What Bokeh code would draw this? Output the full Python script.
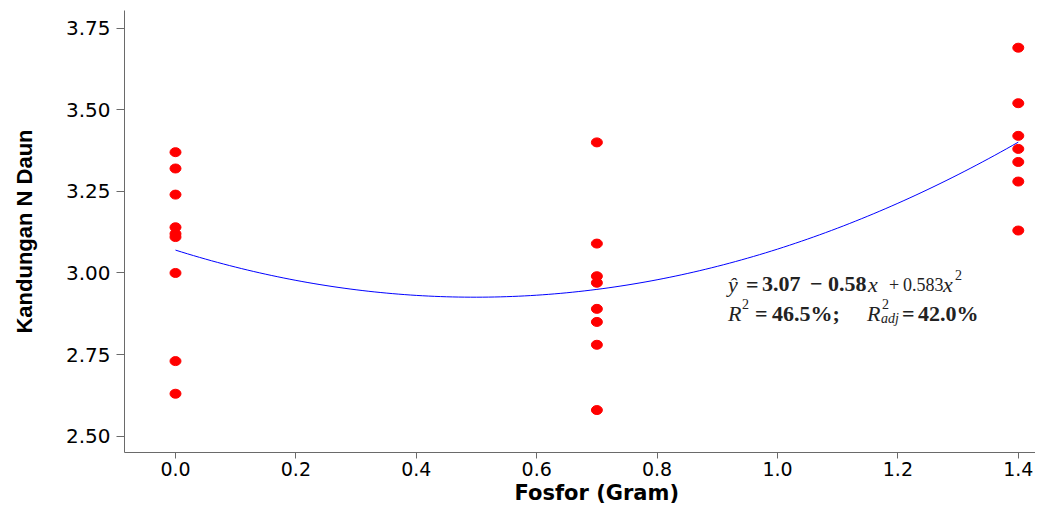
import numpy as np
from bokeh.plotting import figure
from bokeh.models import Range1d, FixedTicker, Label, PrintfTickFormatter, Title
from bokeh.embed import file_html
from bokeh.resources import INLINE

# ---- data ----
fosfor_levels = [0.0, 0.7, 1.4]
n_daun_0_0 = [3.37, 3.32, 3.24, 3.14, 3.12, 3.11, 3.00, 2.73, 2.63]
n_daun_0_7 = [3.40, 3.09, 2.99, 2.97, 2.89, 2.85, 2.78, 2.58]
n_daun_1_4 = [3.69, 3.52, 3.42, 3.38, 3.34, 3.28, 3.13]
fit_coef = [3.07, -0.58, 0.583]          # y = b0 + b1 x + b2 x^2 (as printed)
x_ticks = [0.0, 0.2, 0.4, 0.6, 0.8, 1.0, 1.2, 1.4]
y_ticks = [2.50, 2.75, 3.00, 3.25, 3.50, 3.75]
x_title = "Fosfor (Gram)"
y_title = "Kandungan N Daun"

xs_pts = ([fosfor_levels[0]] * len(n_daun_0_0) + [fosfor_levels[1]] * len(n_daun_0_7)
          + [fosfor_levels[2]] * len(n_daun_1_4))
ys_pts = n_daun_0_0 + n_daun_0_7 + n_daun_1_4

x_start, x_end = -0.0847, 1.4286
y_start, y_end = 2.45, 3.804

p = figure(width=1035, height=509, output_backend="svg", toolbar_location=None,
           x_range=Range1d(x_start, x_end), y_range=Range1d(y_start, y_end),
           min_border_left=124, min_border_right=0, min_border_top=10, min_border_bottom=57)
p.outline_line_color = None
p.xgrid.visible = False
p.ygrid.visible = False
p.background_fill_color = "white"
p.border_fill_color = "white"

# fitted curve from printed coefficients
xc = np.linspace(fosfor_levels[0], fosfor_levels[-1], 141)
yc = fit_coef[0] + fit_coef[1] * xc + fit_coef[2] * xc ** 2
p.line(xc, yc, line_color="#0000ff", line_width=1)

p.ellipse(x=xs_pts, y=ys_pts, width=11, height=9, width_units="screen", height_units="screen",
          fill_color="#ff0000", line_color="#ff0000")

# axes
axis_col = "#6a6a6a"
for ax in (p.xaxis[0], p.yaxis[0]):
    ax.axis_line_color = axis_col
    ax.major_tick_line_color = axis_col
    ax.minor_tick_line_color = None
    ax.major_tick_in = 0
    ax.major_label_text_color = "#000000"
    ax.major_label_text_font = "DejaVu Sans"

p.xaxis.ticker = FixedTicker(ticks=x_ticks)
p.xaxis.formatter = PrintfTickFormatter(format="%.1f")
p.xaxis.major_tick_out = 6
p.xaxis.major_label_standoff = 3
p.xaxis.major_label_text_font_size = "19px"

p.yaxis.ticker = FixedTicker(ticks=y_ticks)
p.yaxis.formatter = PrintfTickFormatter(format="%.2f")
p.yaxis.major_tick_out = 8
p.yaxis.major_label_standoff = 6
p.yaxis.major_label_text_font_size = "20px"
p.yaxis.axis_label = y_title
p.yaxis.axis_label_text_font = "Liberation Sans"
p.yaxis.axis_label_text_font_style = "bold"
p.yaxis.axis_label_text_font_size = "22px"
p.yaxis.axis_label_text_color = "#000000"
p.yaxis.axis_label_standoff = 26

# x axis title, shifted right as in the reference
p.add_layout(Title(text=x_title, align="left", offset=390, standoff=0,
                   text_font="DejaVu Sans", text_font_style="bold",
                   text_font_size="21px", text_color="#000000"), "below")

# equation annotation
ax0, ay0 = 0.916, 2.965
def piece(txt, dx, dy=0, style="normal", size="22px"):
    p.add_layout(Label(x=ax0, y=ay0, x_offset=dx, y_offset=dy, text=txt,
                       text_align="left", text_baseline="alphabetic",
                       text_font="Liberation Serif", text_font_style=style,
                       text_font_size=size, text_color="#222222"))

# line 1
piece("\u0177", 1, 0, "italic")
piece("=", 19, 0, "bold")
piece("3.07", 35, 0, "bold")
piece("\u2212", 83, 0, "bold")
piece("0.58", 101, 0, "bold")
piece("x", 141, 0, "italic")
piece("+", 162, 0, "normal", "18px")
piece("0.583", 176, 0, "normal", "18px")
piece("x", 216, 0, "italic")
piece("2", 228, 9, "normal", "14px")
# line 2
L2 = -29
piece("R", 1, L2, "italic")
piece("2", 15, L2 + 9, "normal", "14px")
piece("=", 28, L2, "bold")
piece("46.5%;", 45, L2, "bold")
piece("R", 140, L2, "italic")
piece("2", 155, L2 + 9, "normal", "14px")
piece("adj", 154, L2 - 5, "italic", "14px")
piece("=", 175, L2, "bold")
piece("42.0%", 191, L2, "bold")

open("out.html", "w").write(file_html(p, INLINE))
